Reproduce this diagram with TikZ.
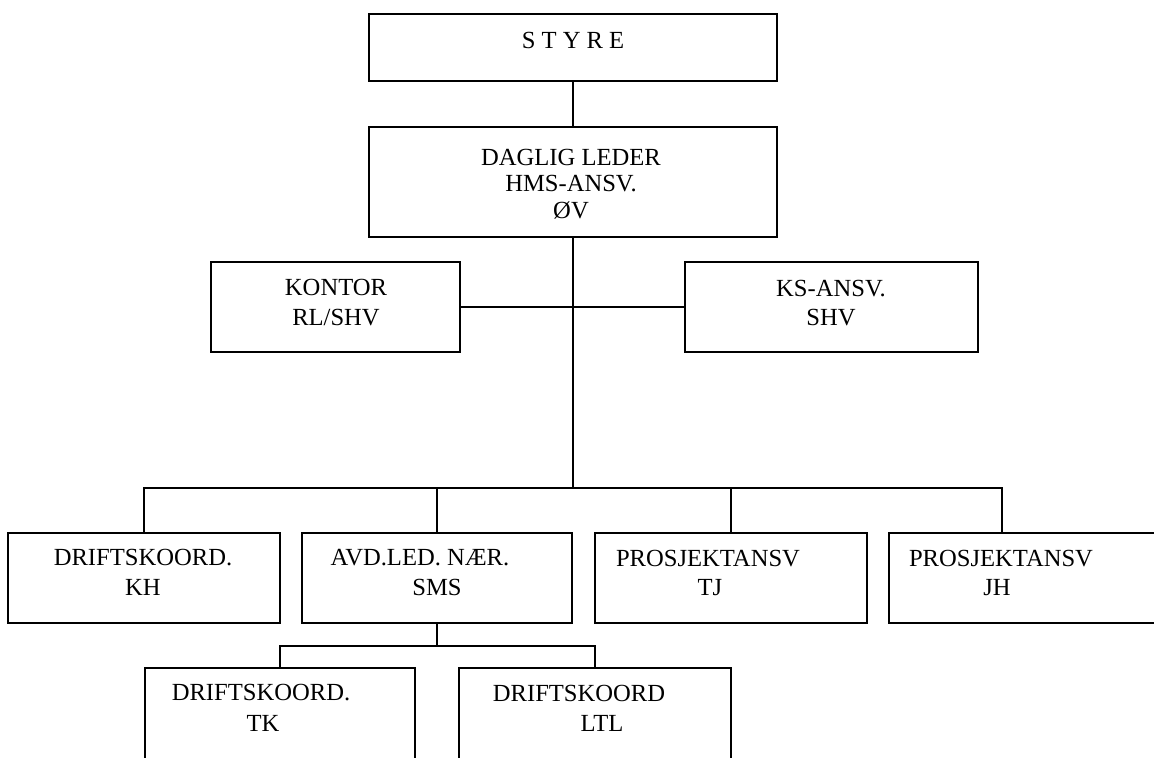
\documentclass[tikz,border=0pt]{standalone}
\usepackage{fontspec}
\setmainfont{Liberation Serif}
\begin{document}
\begin{tikzpicture}[x=0.5pt,y=-0.5pt,
  box/.style={draw, line width=0.9pt, rectangle, inner sep=0pt, outer sep=0pt, anchor=north west},
  ln/.style={line width=0.9pt},
  txt/.style={anchor=base, inner sep=0pt, font=\fontsize{12.3}{14}\selectfont}]
\useasboundingbox (0,0) rectangle (1154,757);
\clip (0,0) rectangle (1154,757);
% boxes
\node[box, minimum width=204pt, minimum height=33.5pt] (styre) at (369,14) {};
\node[box, minimum width=204pt, minimum height=55pt] (daglig) at (369,127) {};
\node[box, minimum width=124.5pt, minimum height=45pt] (kontor) at (211,262) {};
\node[box, minimum width=146.5pt, minimum height=45pt] (ks) at (685,262) {};
\node[box, minimum width=136pt, minimum height=45pt] (kh) at (8,533) {};
\node[box, minimum width=135pt, minimum height=45pt] (avd) at (302,533) {};
\node[box, minimum width=136pt, minimum height=45pt] (tj) at (595,533) {};
\node[box, minimum width=155.5pt, minimum height=45pt] (jh) at (889,533) {};
\node[box, minimum width=135pt, minimum height=66pt] (tk) at (145,668) {};
\node[box, minimum width=136pt, minimum height=66pt] (ltl) at (459,668) {};
% texts
\node[txt] (styre-t) at (573,48) {S T Y R E};
\node[txt] (daglig-1) at (571,165) {DAGLIG LEDER};
\node[txt] (daglig-2) at (571,191.5) {HMS-ANSV.};
\node[txt] (daglig-3) at (571,218) {ØV};
\node[txt] (kontor-1) at (336,295) {KONTOR};
\node[txt] (kontor-2) at (336,325) {RL/SHV};
\node[txt] (ks-1) at (831,296) {KS-ANSV.};
\node[txt] (ks-2) at (831,325) {SHV};
\node[txt] (kh-1) at (143,565) {DRIFTSKOORD.};
\node[txt] (kh-2) at (143,595) {KH};
\node[txt] (avd-1) at (420,565) {AVD.LED. NÆR.};
\node[txt] (avd-2) at (437,595) {SMS};
\node[txt] (tj-1) at (708,566) {PROSJEKTANSV};
\node[txt] (tj-2) at (710,595) {TJ};
\node[txt] (jh-1) at (1001,566) {PROSJEKTANSV};
\node[txt] (jh-2) at (997,595) {JH};
\node[txt] (tk-1) at (261,700) {DRIFTSKOORD.};
\node[txt] (tk-2) at (263,731) {TK};
\node[txt] (ltl-1) at (579,701) {DRIFTSKOORD};
\node[txt] (ltl-2) at (602,731) {LTL};
% connectors
\coordinate (bus) at (573,488);
\coordinate (jhtop) at (1002,533);
\coordinate (sub) at (437,646);
\draw[ln] (styre.south) -- (daglig.north);
\draw[ln] (daglig.south) -- (bus);
\draw[ln] (kontor.east) -- (ks.west);
\draw[ln] (kh.north) -- (kh.north |- bus) -- (bus -| jhtop) -- (jhtop);
\draw[ln] (avd.north) -- (avd.north |- bus);
\draw[ln] (tj.north) -- (tj.north |- bus);
\draw[ln] (avd.south) -- (sub);
\draw[ln] (tk.north) |- (sub) -| (ltl.north);
\end{tikzpicture}
\end{document}
